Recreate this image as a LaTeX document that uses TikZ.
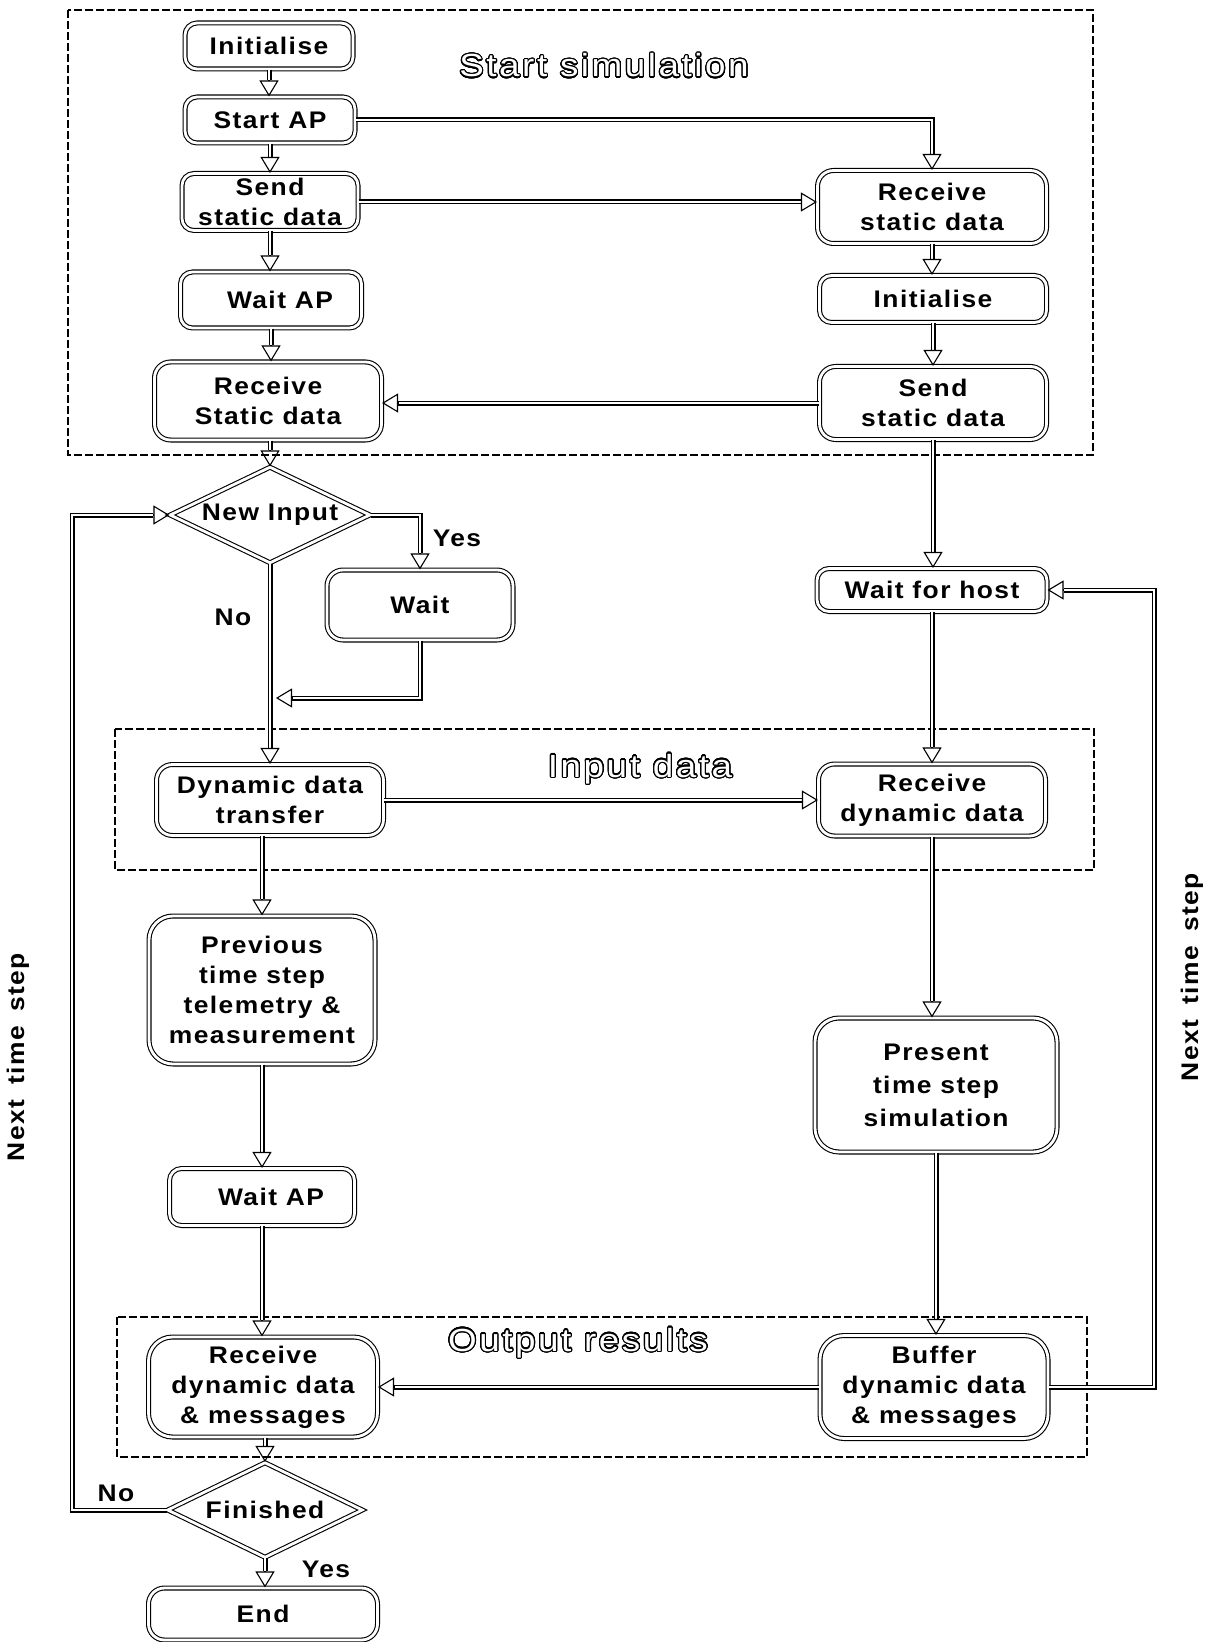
\documentclass[tikz,border=0pt]{standalone}
\usepackage{fontspec}
\setmainfont{Liberation Sans}[FakeStretch=1.1, LetterSpace=6]
\newfontfamily\titlefont{Liberation Sans}[FakeStretch=1.15, LetterSpace=8]
\usepackage{contour}
\contourlength{0.6pt}
\contournumber{32}
\usetikzlibrary{arrows.meta, shapes.geometric, calc}

\tikzset{
  box/.style={draw, double, double distance=1.4pt, line width=0.55pt,
    rounded corners=6pt, align=center, inner sep=0pt,
    font=\bfseries\fontsize{12}{15}\selectfont},
  bigbox/.style={box, rounded corners=12pt},
  decision/.style={draw, diamond, double, double distance=1.4pt,
    line width=0.55pt, inner sep=0pt,
    font=\bfseries\fontsize{12}{15}\selectfont},
  flow/.style={draw, double, double distance=1.4pt, line width=0.55pt},
  arrowtip/.style={line width=0.55pt, -{Triangle[open, length=8pt, width=9.5pt]}},
  region/.style={draw, line width=0.6pt, dash pattern=on 4pt off 1.5pt},
  heading/.style={font=\titlefont\fontsize{16}{18}\selectfont, inner sep=0pt},
  lbl/.style={font=\bfseries\fontsize{12}{15}\selectfont, inner sep=0pt},
}

% vertical connector leaving the bottom of #1, entering the top of #2 (at the x of #1)
\newcommand\vflow[2]{%
  \coordinate (tipend) at (#1.south |- #2.north);
  \draw[flow] (#1.south) -- ($(tipend)+(0,-16)$);
  \draw[arrowtip] ($(tipend)+(0,-16)$) -- (tipend);}
% vertical connector at the x of #2
\newcommand\vflowto[2]{%
  \coordinate (tipend) at (#2.north);
  \draw[flow] (#1.south -| tipend) -- ($(tipend)+(0,-16)$);
  \draw[arrowtip] ($(tipend)+(0,-16)$) -- (tipend);}
% horizontal connector, left to right
\newcommand\hflowR[2]{%
  \coordinate (tipend) at (#1.east -| #2.west);
  \draw[flow] (#1.east) -- ($(tipend)+(-16,0)$);
  \draw[arrowtip] ($(tipend)+(-16,0)$) -- (tipend);}
% horizontal connector, right to left
\newcommand\hflowL[2]{%
  \coordinate (tipend) at (#1.west -| #2.east);
  \draw[flow] (#1.west) -- ($(tipend)+(16,0)$);
  \draw[arrowtip] ($(tipend)+(16,0)$) -- (tipend);}

\begin{document}
\begin{tikzpicture}[x=0.5pt, y=-0.5pt]
\useasboundingbox (0,0) rectangle (1213,1642);

% phase regions
\draw[region] (68,10) rectangle (1093,455);
\draw[region] (115,729) rectangle (1094,870);
\draw[region] (117,1317) rectangle (1087,1457);

\node[heading, anchor=base] (hstart) at (604,77) {\color{white}\contour{black}{Start simulation}};
\node[heading, anchor=base] (hinput) at (640,777) {\color{white}\contour{black}{Input data}};
\node[heading, anchor=base] (houtput) at (578,1351) {\color{white}\contour{black}{Output results}};

% host side
\node[box, minimum width=84pt, minimum height=23pt] (iniL) at (269,46) {Initialise};
\node[box, minimum width=85pt, minimum height=23pt] (sap) at (270,120) {Start AP};
\node[box, minimum width=88pt, minimum height=28.5pt] (ssdL) at (270,202) {Send\\static data};
\node[box, minimum width=90.5pt, minimum height=28pt] (wap1) at (271,300) {\hspace*{9pt}Wait AP};
\node[box, rounded corners=8pt, minimum width=113.5pt, minimum height=39pt] (rsdL) at (268,401) {Receive\\Static data};
\node[decision, minimum width=100pt, minimum height=48pt] (newin) at (270,515) {\makebox[0pt]{New Input}};
\node[box, rounded corners=8pt, minimum width=93pt, minimum height=35pt] (waitn) at (420,605) {Wait};
\node[box, rounded corners=8pt, minimum width=113.5pt, minimum height=35.5pt] (ddt) at (270,800) {Dynamic data\\transfer};
\node[bigbox, minimum width=113pt, minimum height=74pt] (prev) at (262,990) {Previous\\time step\\telemetry \&\\measurement};
\node[box, minimum width=92.5pt, minimum height=28.5pt] (wap2) at (262,1197) {\hspace*{9pt}Wait AP};
\node[bigbox, minimum width=114.5pt, minimum height=50pt] (rdm) at (263,1387) {Receive\\dynamic data\\\& messages};
\node[decision, minimum width=97.5pt, minimum height=47.5pt] (fin) at (265,1510) {\makebox[0pt]{Finished}};
\node[box, rounded corners=8pt, minimum width=114.5pt, minimum height=26pt] (endn) at (263,1614) {End};

% AP side
\node[box, rounded corners=8pt, minimum width=114.5pt, minimum height=36.5pt] (rsdR) at (932,207) {Receive\\static data};
\node[box, minimum width=113.5pt, minimum height=23.5pt] (iniR) at (933,299) {Initialise};
\node[box, rounded corners=8pt, minimum width=113.5pt, minimum height=36.5pt] (ssdR) at (933,403) {Send\\static data};
\node[box, minimum width=115pt, minimum height=21.5pt] (wfh) at (932,590) {Wait for host};
\node[box, rounded corners=8pt, minimum width=113.5pt, minimum height=36pt] (rdd) at (932,800) {Receive\\dynamic data};
\node[bigbox, minimum width=121pt, minimum height=67pt, font=\bfseries\fontsize{12}{16.5}\selectfont] (pres) at (936,1085) {Present\\time step\\simulation};
\node[bigbox, minimum width=114pt, minimum height=51.5pt] (buf) at (934,1387) {Buffer\\dynamic data\\\& messages};

% branch labels
\node[lbl] (yes1) at (457,538) {Yes};
\node[lbl] (no1) at (233,617) {No};
\node[lbl] (no2) at (116,1493) {No};
\node[lbl] (yes2) at (326,1569) {Yes};
\node[lbl, rotate=90] (ntsL) at (18,1057) {Next\hspace{3pt} time\hspace{3pt} step};
\node[lbl, rotate=90] (ntsR) at (1192,977) {Next\hspace{3pt} time\hspace{3pt} step};

% connectors: start-up
\vflow{iniL}{sap}
\coordinate (tipend) at (rsdR.north);
\draw[flow] (sap.east) -| ($(tipend)+(0,-16)$);
\draw[arrowtip] ($(tipend)+(0,-16)$) -- (tipend);
\vflow{sap}{ssdL}
\hflowR{ssdL}{rsdR}
\vflow{ssdL}{wap1}
\vflow{wap1}{rsdL}
\vflowto{rsdL}{newin}
\vflow{rsdR}{iniR}
\vflow{iniR}{ssdR}
\hflowL{ssdR}{rsdL}
\vflow{ssdR}{wfh}
\vflow{wfh}{rdd}

% connectors: new input decision
\coordinate (tipend) at (waitn.north);
\draw[flow] (newin.east) -| ($(tipend)+(0,-16)$);
\draw[arrowtip] ($(tipend)+(0,-16)$) -- (tipend);
\vflow{newin}{ddt}
\coordinate (merge) at (276,698);
\draw[flow] (waitn.south) |- ($(merge)+(16,0)$);
\draw[arrowtip] ($(merge)+(16,0)$) -- (merge);

% connectors: time step
\hflowR{ddt}{rdd}
\vflowto{ddt}{prev}
\vflow{prev}{wap2}
\vflow{wap2}{rdm}
\vflowto{rdm}{fin}
\vflow{fin}{endn}
\vflow{rdd}{pres}
\vflow{pres}{buf}
\hflowL{buf}{rdm}

% loops back to the next time step
\coordinate (rl) at (1154,0);
\coordinate (tipend) at (wfh.east);
\draw[flow] (buf.east) -| (rl |- tipend) -- ($(tipend)+(16,0)$);
\draw[arrowtip] ($(tipend)+(16,0)$) -- (tipend);
\coordinate (ll) at (72,0);
\coordinate (tipend) at (newin.west);
\draw[flow] (fin.west) -| (ll |- tipend) -- ($(tipend)+(-16,0)$);
\draw[arrowtip] ($(tipend)+(-16,0)$) -- (tipend);
\end{tikzpicture}
\end{document}
